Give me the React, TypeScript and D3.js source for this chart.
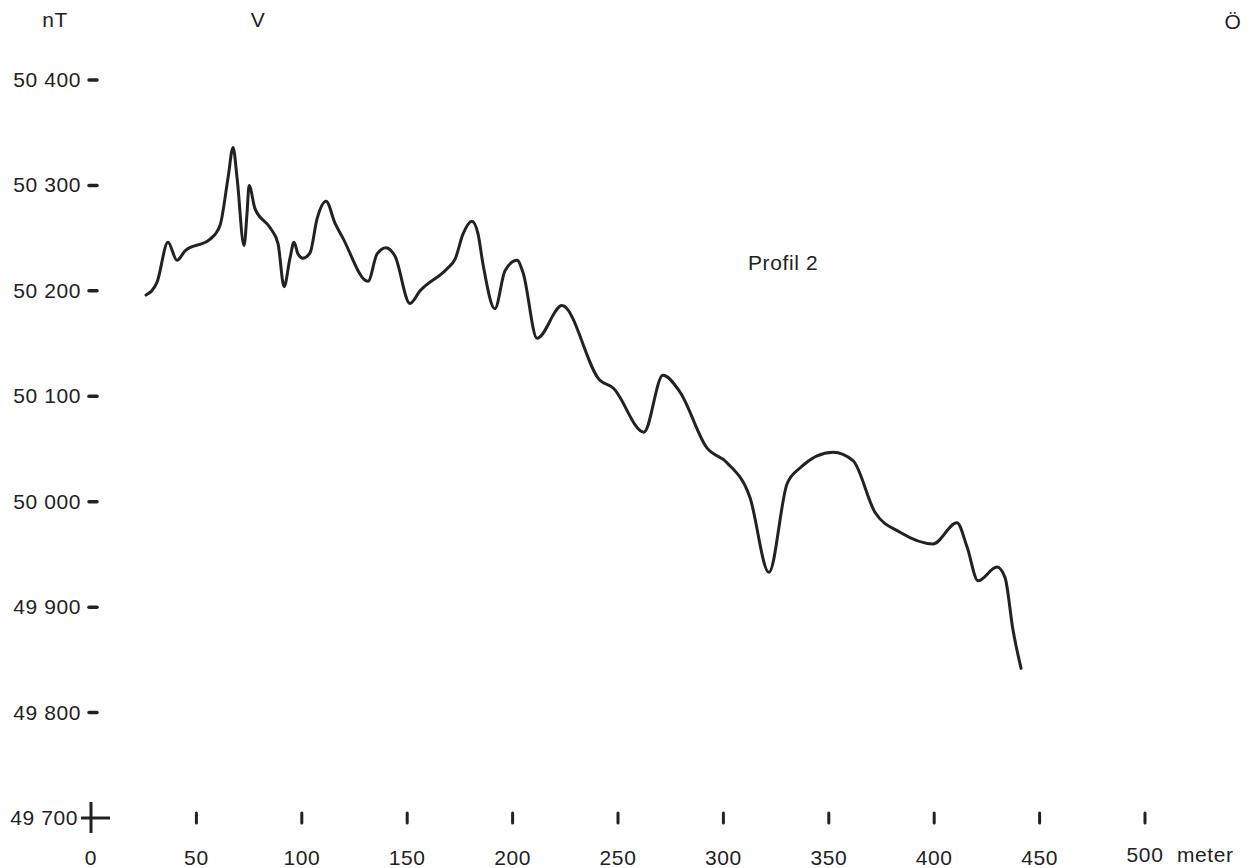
import { useMemo } from 'react';
import * as d3 from 'd3';

// profile 2: distance along profile (m) and total field (nT)
const distance = [
  26.1, 31.3, 36.5, 40.8, 44.6, 56.5, 61.2, 65.0, 67.4, 69.3, 72.6, 74.0, 75.0, 77.8,
  84.9, 88.7, 91.6, 94.4, 96.3, 98.2, 100.6, 103.9, 107.2, 111.5, 115.8, 119.5, 131.4,
  135.7, 139.9, 144.2, 151.3, 156.1, 168.9, 172.7, 176.5, 180.7, 183.6, 185.9, 191.6,
  196.4, 202.1, 205.0, 211.6, 223.4, 241.5, 247.6, 262.3, 271.3, 279.4, 292.2, 301.7,
  312.6, 321.6, 330.2, 336.3, 352.0, 361.5, 371.9, 383.8, 399.4, 410.8, 415.6, 420.8,
  429.8, 433.6, 437.4, 441.2,
];
const field = [
  50196, 50208, 50246, 50229, 50238, 50249, 50262, 50307, 50336, 50307, 50243, 50273, 50300, 50278,
  50260, 50245, 50204, 50231, 50246, 50235, 50231, 50236, 50268, 50285, 50264, 50250, 50209,
  50235, 50241, 50233, 50188, 50200, 50221, 50230, 50254, 50266, 50254, 50226, 50183,
  50219, 50229, 50217, 50155, 50186, 50115, 50108, 50066, 50120, 50104, 50051, 50037,
  50004, 49933, 50017, 50032, 50047, 50039, 49990, 49971, 49960, 49980, 49957, 49925,
  49938, 49928, 49878, 49842,
];
const xTicks = [0, 50, 100, 150, 200, 250, 300, 350, 400, 450, 500];
const yTicks = [49700, 49800, 49900, 50000, 50100, 50200, 50300, 50400];

const W = 1256;
const H = 868;
const ink = '#222';
const font = '"Liberation Sans", Arial, sans-serif';

export default function App() {
  const x = d3.scaleLinear().domain([0, 500]).range([91, 1145]);
  const y = d3.scaleLinear().domain([49700, 50400]).range([818, 80]);

  const path = useMemo(() => {
    const pts = distance.map((d, i) => [d, field[i]] as [number, number]);
    return d3.line<[number, number]>()
      .x(d => x(d[0]))
      .y(d => y(d[1]))
      .curve(d3.curveMonotoneX)(pts);
  }, []);

  const fmt = (v: number) => d3.format(',')(v).replace(',', ' ');
  const x0 = x(0);
  const y0 = y(49700);

  return (
    <svg width={W} height={H} style={{ position: 'absolute', left: 0, top: 0, background: '#fff' }}
      fontFamily={font} fontSize={21} letterSpacing={0.6} fill={ink}>
      <text x={55} y={27} textAnchor="middle">nT</text>
      <text x={258} y={27} textAnchor="middle">V</text>
      <text x={1233} y={29} textAnchor="middle">Ö</text>

      {yTicks.map(v => (
        <g key={v}>
          <text x={v === 49700 ? 78 : 81} y={y(v) + 7} textAnchor="end">{fmt(v)}</text>
          {v !== 49700 && (
            <line x1={89} x2={97} y1={y(v)} y2={y(v)} stroke={ink} strokeWidth={3.5} strokeLinecap="round" />
          )}
        </g>
      ))}

      {/* origin cross */}
      <line x1={81} x2={110} y1={y0} y2={y0} stroke={ink} strokeWidth={3} />
      <line x1={x0} x2={x0} y1={802} y2={833} stroke={ink} strokeWidth={3} />

      {xTicks.map(v => (
        <g key={v}>
          {v !== 0 && (
            <line x1={x(v)} x2={x(v)} y1={813} y2={823} stroke={ink} strokeWidth={3} strokeLinecap="round" />
          )}
          <text x={x(v)} y={v === 500 ? 862 : 865} textAnchor="middle">{v}</text>
        </g>
      ))}
      <text x={1177} y={862}>meter</text>

      <text x={748} y={270}>Profil 2</text>

      <path d={path ?? ''} fill="none" stroke={ink} strokeWidth={3} strokeLinejoin="round" strokeLinecap="round" />
    </svg>
  );
}
